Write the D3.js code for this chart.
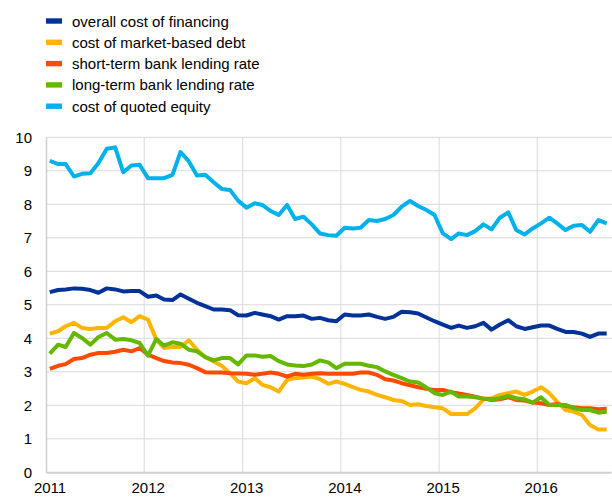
<!DOCTYPE html>
<html>
<head>
<meta charset="utf-8">
<script src="https://cdn.jsdelivr.net/npm/d3@7/dist/d3.min.js"></script>
<style>
  html, body { margin: 0; padding: 0; background: #fff; }
  svg { display: block; font-family: "Liberation Sans", Arial, sans-serif; }
</style>
</head>
<body>
<svg id="chart" width="612" height="497"></svg>
<script>
// Monthly observations, January 2011 to September 2016 (percentages per annum)
const startMonth = new Date(2011, 0, 1);
const endMonth = new Date(2016, 9, 1);

const seriesNames = [
  "overall cost of financing",
  "cost of market-based debt",
  "short-term bank lending rate",
  "long-term bank lending rate",
  "cost of quoted equity"
];
const seriesColors = ["#003299", "#ffb400", "#ff4b00", "#65b800", "#00b1ea"];

const overallCost = [
  5.38, 5.44, 5.46, 5.49, 5.48, 5.44, 5.36, 5.49, 5.46, 5.40, 5.41, 5.41,
  5.24, 5.28, 5.16, 5.14, 5.31, 5.18, 5.06, 4.96, 4.86, 4.86, 4.84, 4.69,
  4.68, 4.76, 4.71, 4.66, 4.56, 4.66, 4.66, 4.68, 4.58, 4.61, 4.54, 4.51,
  4.71, 4.68, 4.68, 4.71, 4.64, 4.58, 4.64, 4.79, 4.78, 4.74, 4.62, 4.51,
  4.41, 4.31, 4.38, 4.31, 4.36, 4.46, 4.26, 4.41, 4.54, 4.36, 4.28, 4.33,
  4.38, 4.38, 4.28, 4.19, 4.19, 4.14, 4.04, 4.14, 4.14
];
const marketDebt = [
  4.14, 4.21, 4.36, 4.46, 4.31, 4.28, 4.31, 4.31, 4.51, 4.63, 4.48, 4.66,
  4.56, 3.96, 3.71, 3.74, 3.74, 3.94, 3.66, 3.44, 3.31, 3.18, 2.96, 2.71,
  2.66, 2.81, 2.61, 2.54, 2.41, 2.76, 2.81, 2.83, 2.86, 2.78, 2.64, 2.71,
  2.64, 2.54, 2.46, 2.41, 2.31, 2.24, 2.16, 2.13, 2.01, 2.03, 1.98, 1.94,
  1.91, 1.74, 1.74, 1.74, 1.91, 2.18, 2.21, 2.31, 2.36, 2.41, 2.31, 2.41,
  2.54, 2.36, 2.10, 1.86, 1.81, 1.71, 1.41, 1.28, 1.28
];
const shortTermRate = [
  3.09, 3.18, 3.23, 3.38, 3.41, 3.51, 3.56, 3.56, 3.60, 3.66, 3.61, 3.71,
  3.51, 3.41, 3.32, 3.28, 3.26, 3.21, 3.11, 2.99, 2.98, 2.98, 2.96, 2.95,
  2.94, 2.91, 2.94, 2.98, 2.94, 2.86, 2.94, 2.91, 2.94, 2.96, 2.94, 2.94,
  2.94, 2.94, 2.98, 2.98, 2.91, 2.78, 2.74, 2.66, 2.60, 2.54, 2.49, 2.46,
  2.46, 2.39, 2.35, 2.31, 2.26, 2.20, 2.16, 2.18, 2.24, 2.16, 2.14, 2.08,
  2.06, 2.01, 2.04, 1.98, 1.94, 1.91, 1.91, 1.88, 1.90
];
const longTermRate = [
  3.54, 3.81, 3.74, 4.16, 4.01, 3.81, 4.04, 4.16, 3.96, 3.98, 3.94, 3.86,
  3.48, 3.98, 3.78, 3.88, 3.84, 3.66, 3.61, 3.44, 3.34, 3.41, 3.41, 3.22,
  3.49, 3.49, 3.45, 3.47, 3.32, 3.22, 3.19, 3.17, 3.22, 3.34, 3.28, 3.11,
  3.24, 3.24, 3.24, 3.18, 3.14, 3.01, 2.91, 2.81, 2.71, 2.68, 2.53, 2.36,
  2.31, 2.41, 2.26, 2.26, 2.24, 2.20, 2.18, 2.21, 2.28, 2.21, 2.18, 2.08,
  2.24, 2.01, 2.01, 2.01, 1.91, 1.86, 1.86, 1.78, 1.81
];
const quotedEquity = [
  9.30, 9.20, 9.20, 8.83, 8.91, 8.93, 9.23, 9.66, 9.70, 8.96, 9.16, 9.18,
  8.78, 8.78, 8.78, 8.88, 9.56, 9.28, 8.86, 8.88, 8.66, 8.46, 8.43, 8.11,
  7.90, 8.03, 7.98, 7.80, 7.68, 7.98, 7.56, 7.63, 7.40, 7.13, 7.08, 7.06,
  7.30, 7.28, 7.30, 7.53, 7.50, 7.56, 7.68, 7.93, 8.10, 7.95, 7.83, 7.68,
  7.13, 6.96, 7.13, 7.08, 7.20, 7.40, 7.25, 7.60, 7.76, 7.23, 7.10, 7.28,
  7.43, 7.60, 7.43, 7.23, 7.36, 7.38, 7.18, 7.53, 7.43
];

const yTicks = [0, 1, 2, 3, 4, 5, 6, 7, 8, 9, 10];
const yearTicks = [2011, 2012, 2013, 2014, 2015, 2016];

// Each observation sits in the middle of its month
const months = d3.timeMonth.range(startMonth, endMonth).map(d => d3.timeDay.offset(d, 14));
const allSeries = [overallCost, marketDebt, shortTermRate, longTermRate, quotedEquity];

const svg = d3.select("#chart");
const plotLeft = 46, plotRight = 611, plotTop = 137.3, plotBottom = 472.3;

const x = d3.scaleTime().domain([startMonth, endMonth]).range([plotLeft, plotRight]);
const y = d3.scaleLinear().domain([0, 10]).range([plotBottom, plotTop]);

// Horizontal grid
svg.append("g")
  .selectAll("line")
  .data(yTicks.filter(v => v > 0))
  .join("line")
  .attr("x1", plotLeft).attr("x2", 612)
  .attr("y1", d => y(d)).attr("y2", d => y(d))
  .attr("stroke", "#d9d9d9").attr("stroke-width", 1);

// Vertical grid at year starts
const yearDates = yearTicks.map(yr => new Date(yr, 0, 1));
svg.append("g")
  .selectAll("line")
  .data(yearDates.slice(1))
  .join("line")
  .attr("x1", d => x(d)).attr("x2", d => x(d))
  .attr("y1", plotTop).attr("y2", plotBottom)
  .attr("stroke", "#d9d9d9").attr("stroke-width", 1);

// Y axis
const yAxis = svg.append("g")
  .attr("transform", `translate(${plotLeft},0)`)
  .call(d3.axisLeft(y).tickValues(yTicks).tickSize(0).tickPadding(14).tickFormat(d3.format("d")));
yAxis.select(".domain").attr("stroke", "#d0d0d0").attr("stroke-width", 1.5);
yAxis.selectAll("text").attr("font-size", 15).attr("fill", "#000")
  .attr("font-family", "'Liberation Sans', Arial, sans-serif");

// X axis
const xAxis = svg.append("g")
  .attr("transform", `translate(0,${plotBottom})`)
  .call(d3.axisBottom(x).tickValues(yearDates).tickSize(0).tickPadding(10).tickFormat(d3.timeFormat("%Y")));
xAxis.select(".domain").attr("stroke", "#d0d0d0").attr("stroke-width", 2);
xAxis.selectAll("text").attr("font-size", 15).attr("fill", "#000").attr("dx", 3.5)
  .attr("font-family", "'Liberation Sans', Arial, sans-serif");

// Lines
const line = d3.line()
  .x((d, i) => x(months[i]))
  .y(d => y(d));

svg.append("g")
  .selectAll("path")
  .data(allSeries)
  .join("path")
  .attr("d", d => line(d))
  .attr("fill", "none")
  .attr("stroke", (d, i) => seriesColors[i])
  .attr("stroke-width", 4)
  .attr("stroke-linejoin", "round");

// Legend
const legend = svg.append("g");
const rows = legend.selectAll("g")
  .data(seriesNames)
  .join("g")
  .attr("transform", (d, i) => `translate(46,${21 + i * 21.3})`);
rows.append("rect")
  .attr("x", 0).attr("y", -2.7).attr("width", 16).attr("height", 5.4)
  .attr("fill", (d, i) => seriesColors[i]);
rows.append("text")
  .attr("x", 26).attr("y", 5.5)
  .attr("font-size", 15).attr("fill", "#000")
  .text(d => d);
</script>
</body>
</html>
